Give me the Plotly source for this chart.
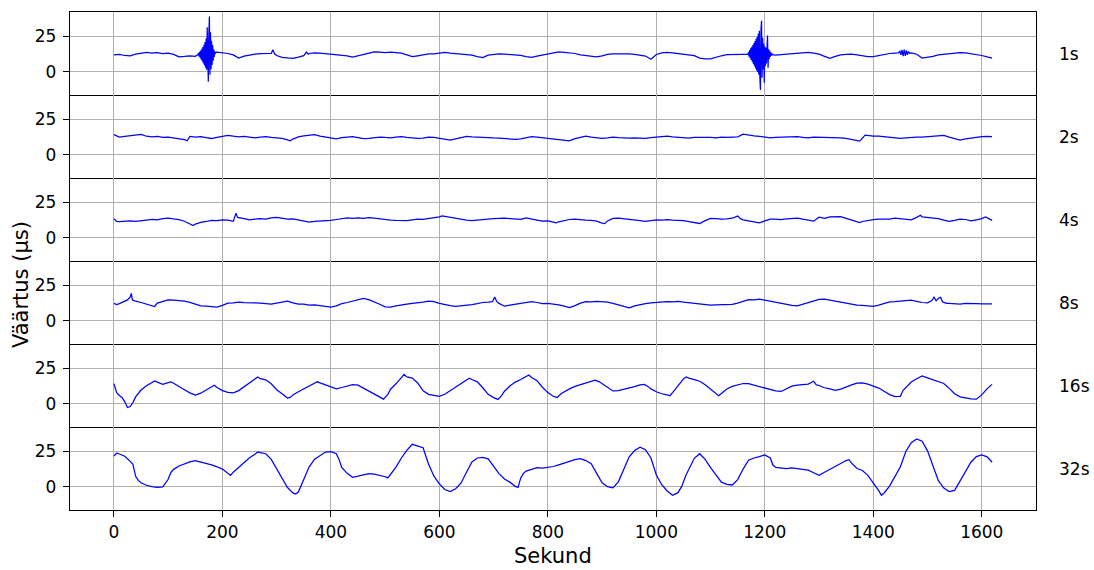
import plotly.graph_objects as go
from plotly.subplots import make_subplots

# Mõõdetud ajavea väärtused (µs) erinevate keskmistamisintervallidega.
# Iga rida: (sekund, väärtus)

s1_base = [
    (0, 12.0), (10, 12.4), (20, 11.6), (30, 11.4), (40, 12.5), (50, 13.3), (60, 13.8), (70, 13.2),
    (80, 13.6), (90, 13.0), (100, 13.2), (110, 12.4), (120, 10.6), (130, 10.9), (140, 11.3), (150, 11.0),
    (190, 14.0), (200, 13.6), (210, 13.0), (220, 12.0), (230, 9.8), (240, 11.2), (250, 12.0), (260, 12.6),
    (270, 12.9), (280, 13.2), (290, 13.0), (293, 15.6), (296, 12.8), (300, 11.6), (310, 10.3), (320, 9.9),
    (330, 9.6), (340, 10.4), (350, 11.5), (355, 14.0), (358, 12.5), (360, 13.0), (370, 13.4), (380, 13.2),
    (390, 12.8), (400, 12.6), (410, 12.2), (420, 12.0), (430, 11.4), (440, 10.5), (450, 11.5), (460, 12.6),
    (470, 13.4), (480, 14.2), (490, 14.0), (500, 13.6), (510, 13.9), (520, 13.6), (530, 13.2), (540, 12.0),
    (550, 10.8), (560, 11.4), (570, 12.3), (580, 12.7), (590, 12.8), (600, 13.5), (610, 13.8), (620, 13.3),
    (630, 12.9), (640, 12.4), (650, 12.2), (660, 11.9), (670, 10.8), (680, 10.1), (690, 11.8), (700, 12.5),
    (710, 12.8), (720, 12.6), (730, 12.4), (740, 12.0), (750, 11.6), (760, 10.8), (770, 10.3), (780, 11.2),
    (790, 12.0), (800, 12.8), (810, 13.6), (820, 14.2), (830, 13.8), (840, 13.4), (850, 13.0), (860, 12.0),
    (870, 11.5), (880, 11.0), (890, 10.6), (900, 11.4), (910, 12.4), (920, 12.7), (930, 12.9), (940, 13.1),
    (950, 12.8), (960, 12.4), (970, 11.8), (980, 11.2), (990, 9.0), (1000, 12.3), (1010, 13.4), (1020, 13.8),
    (1030, 13.5), (1040, 13.1), (1050, 12.8), (1060, 12.2), (1070, 11.5), (1080, 9.8), (1090, 9.2), (1100, 9.3),
    (1110, 10.6), (1120, 11.4), (1130, 12.2), (1140, 12.4), (1150, 12.5), (1160, 12.3),
    (1220, 11.9), (1230, 12.2), (1240, 12.5), (1250, 12.8), (1260, 13.1), (1270, 13.5), (1280, 13.8),
    (1290, 13.2), (1300, 12.5), (1310, 11.0), (1320, 9.6), (1330, 11.0), (1340, 12.0), (1350, 12.4),
    (1360, 12.6), (1370, 12.0), (1380, 11.2), (1390, 10.8), (1400, 10.8), (1410, 11.5), (1420, 12.5),
    (1430, 13.0), (1440, 13.3),
    (1470, 13.5), (1480, 12.5), (1490, 9.8), (1500, 10.2), (1510, 11.0), (1520, 12.0), (1530, 12.5),
    (1540, 12.7), (1550, 13.2), (1560, 13.6), (1570, 13.4), (1580, 12.8), (1590, 12.4), (1600, 11.6),
    (1610, 10.6), (1619, 9.8),
]

s1_burst_a = [
    (155, 12.2), (156, 13.4), (157, 11.0), (158, 14.2), (159, 9.8), (160, 15.0), (161, 8.6), (162, 16.4),
    (163, 7.4), (164, 17.6), (165, 6.0), (166, 19.2), (167, 4.6), (168, 21.0), (169, 3.0), (170, 23.6),
    (171, 1.6), (172, 31.4), (173, 0.4), (174, -6.8), (175, 26.0), (176, 39.0), (177, -2.0), (178, 28.0),
    (179, 2.0), (180, 22.0), (181, 5.0), (182, 19.0), (183, 8.0), (184, 16.0), (185, 10.5), (186, 14.5),
    (187, 12.8), (188, 13.8),
]

s1_burst_b = [
    (1169, 12.4), (1170, 14.0), (1171, 10.8), (1172, 15.4), (1173, 9.6), (1174, 16.6), (1175, 8.4),
    (1176, 17.8), (1177, 7.0), (1178, 19.0), (1179, 5.6), (1180, 20.4), (1181, 4.0), (1182, 21.8),
    (1183, 2.4), (1184, 23.4), (1185, 1.0), (1186, 24.8), (1187, 0.0), (1188, 27.0), (1189, -2.0),
    (1190, 29.0), (1191, -5.0), (1192, -12.6), (1193, 30.0), (1194, 36.0), (1195, -4.0), (1196, 24.0),
    (1197, 2.0), (1198, 20.0), (1199, -7.6), (1200, 18.0), (1201, 4.0), (1202, 17.0), (1203, 6.0),
    (1204, 20.0), (1205, 25.6), (1206, 3.0), (1207, 16.0), (1208, 9.0), (1209, 15.0), (1210, 10.5),
    (1211, 13.8), (1212, 11.6), (1213, 13.0), (1214, 12.2),
]

s1_burst_c = [
    (1446, 13.4), (1449, 14.6), (1451, 12.0), (1453, 15.6), (1455, 11.2), (1457, 15.8), (1459, 11.4),
    (1461, 15.2), (1463, 12.0), (1465, 14.4), (1467, 13.2),
]

s2 = [
    (0, 14.3), (10, 12.6), (20, 13.1), (30, 13.5), (40, 13.9), (50, 14.5), (60, 13.2), (70, 12.8),
    (80, 13.0), (90, 12.4), (100, 12.6), (110, 12.0), (120, 11.8), (130, 10.8), (135, 10.0), (140, 13.0),
    (150, 12.6), (160, 12.9), (170, 12.2), (180, 11.6), (190, 12.4), (200, 13.2), (210, 13.8), (220, 13.2),
    (230, 12.8), (240, 13.1), (250, 12.5), (260, 12.1), (270, 12.6), (280, 12.9), (290, 12.4), (300, 12.0),
    (310, 11.6), (320, 10.6), (325, 10.0), (330, 11.2), (340, 12.7), (350, 13.4), (360, 14.0), (370, 14.3),
    (380, 13.2), (390, 12.5), (400, 11.8), (410, 11.4), (420, 12.2), (430, 12.6), (440, 12.9), (450, 12.2),
    (460, 11.5), (470, 11.6), (480, 12.3), (490, 12.6), (500, 12.3), (510, 12.1), (520, 12.6), (530, 12.9),
    (540, 12.4), (550, 12.0), (560, 11.7), (570, 11.9), (580, 12.5), (590, 12.4), (600, 11.8), (610, 11.2),
    (620, 10.5), (630, 11.4), (640, 12.4), (650, 13.1), (660, 12.8), (670, 12.5), (680, 12.4), (690, 12.2),
    (700, 12.0), (710, 11.9), (720, 11.6), (730, 11.3), (740, 11.0), (750, 11.4), (760, 12.2), (770, 12.9),
    (780, 12.6), (790, 12.2), (800, 12.0), (810, 11.5), (820, 11.2), (830, 10.4), (840, 10.0), (850, 11.5),
    (860, 12.6), (870, 13.3), (880, 12.6), (890, 12.1), (900, 11.7), (910, 12.1), (920, 12.6), (930, 12.2),
    (940, 11.9), (950, 11.9), (960, 12.1), (970, 11.8), (980, 11.7), (990, 12.2), (1000, 12.6), (1010, 13.0),
    (1020, 13.3), (1030, 12.8), (1040, 12.4), (1050, 12.1), (1060, 11.8), (1070, 12.3), (1080, 12.5),
    (1090, 12.2), (1100, 12.4), (1110, 12.1), (1120, 12.6), (1130, 12.3), (1140, 12.4), (1150, 12.8),
    (1160, 14.6), (1170, 13.9), (1180, 13.4), (1190, 13.1), (1200, 12.4), (1210, 12.1), (1220, 12.4),
    (1230, 12.6), (1240, 12.3), (1250, 12.7), (1260, 12.9), (1270, 12.4), (1280, 12.1), (1290, 12.5),
    (1300, 12.4), (1310, 12.2), (1320, 12.6), (1330, 12.4), (1340, 12.1), (1350, 11.6), (1360, 11.0),
    (1370, 10.2), (1375, 9.8), (1385, 14.0), (1390, 13.6), (1400, 13.3), (1410, 13.3), (1420, 12.8),
    (1430, 12.4), (1440, 11.9), (1450, 11.7), (1460, 12.0), (1470, 12.4), (1480, 12.5), (1490, 12.6),
    (1500, 12.9), (1510, 13.2), (1520, 13.6), (1530, 13.8), (1540, 12.6), (1550, 11.5), (1560, 10.5),
    (1570, 11.3), (1580, 12.0), (1590, 12.6), (1600, 12.9), (1610, 13.1), (1619, 12.9),
]

s4 = [
    (0, 13.5), (5, 11.6), (10, 11.5), (20, 11.8), (30, 12.1), (40, 11.6), (50, 12.3), (60, 12.6), (70, 13.0),
    (80, 12.7), (90, 13.6), (100, 14.0), (110, 13.4), (120, 12.9), (130, 11.8), (140, 10.0), (146, 8.7),
    (150, 9.8), (160, 11.0), (170, 11.6), (180, 12.4), (190, 12.2), (200, 12.8), (210, 12.6), (220, 11.7),
    (225, 17.5), (228, 14.5), (240, 13.6), (250, 12.8), (260, 13.2), (270, 13.6), (280, 13.2), (290, 14.2),
    (300, 14.5), (310, 13.6), (320, 13.2), (330, 13.5), (340, 12.8), (350, 12.0), (360, 11.2), (370, 11.6),
    (380, 11.8), (390, 12.2), (400, 12.4), (410, 13.0), (420, 13.6), (430, 14.2), (440, 13.8), (450, 14.1),
    (460, 13.8), (470, 14.3), (480, 13.9), (490, 13.3), (500, 13.0), (510, 12.5), (520, 12.3), (530, 12.0),
    (540, 12.2), (550, 12.8), (560, 13.3), (570, 13.1), (580, 13.7), (590, 14.0), (600, 14.8), (605, 15.6),
    (610, 15.2), (620, 14.6), (630, 14.0), (640, 13.2), (650, 12.5), (660, 12.2), (670, 12.7), (680, 12.9),
    (690, 13.2), (700, 13.6), (710, 14.0), (720, 13.9), (730, 13.6), (740, 13.3), (750, 13.1), (760, 14.2),
    (770, 13.6), (780, 12.6), (790, 11.8), (800, 12.1), (810, 11.2), (815, 10.6), (820, 11.4), (830, 12.4),
    (840, 13.0), (850, 13.3), (860, 12.8), (870, 12.6), (880, 12.4), (890, 11.8), (900, 10.5), (905, 10.1),
    (910, 12.0), (920, 13.8), (930, 13.9), (940, 13.6), (950, 13.3), (960, 13.0), (970, 12.2), (980, 11.7),
    (990, 12.3), (1000, 12.8), (1010, 12.6), (1020, 12.9), (1030, 12.5), (1040, 12.4), (1050, 12.2),
    (1060, 11.5), (1070, 10.8), (1080, 10.2), (1090, 12.2), (1100, 13.8), (1110, 13.6), (1120, 13.2),
    (1130, 13.4), (1140, 13.9), (1150, 15.4), (1155, 13.6), (1160, 12.8), (1170, 12.0), (1180, 11.2),
    (1190, 10.6), (1200, 12.0), (1210, 13.2), (1220, 13.3), (1230, 13.0), (1240, 13.4), (1250, 13.7),
    (1260, 14.0), (1270, 13.2), (1280, 12.4), (1290, 11.8), (1300, 14.6), (1310, 13.8), (1320, 14.9),
    (1330, 15.2), (1340, 15.0), (1350, 13.8), (1360, 12.6), (1370, 11.2), (1375, 10.8), (1380, 11.6),
    (1390, 12.4), (1400, 12.9), (1410, 13.3), (1420, 13.5), (1430, 13.2), (1440, 14.0), (1450, 13.6),
    (1460, 13.3), (1470, 12.8), (1480, 14.5), (1487, 16.0), (1490, 14.9), (1500, 14.6), (1510, 14.2),
    (1520, 13.6), (1530, 12.6), (1540, 11.7), (1550, 12.4), (1560, 13.2), (1570, 13.0), (1580, 12.0),
    (1590, 12.8), (1600, 13.6), (1607, 14.8), (1612, 13.8), (1619, 12.4),
]

s8 = [
    (0, 12.4), (5, 11.6), (10, 12.2), (20, 13.8), (25, 14.8), (30, 17.0), (32, 19.4), (34, 14.8), (40, 13.9),
    (50, 13.0), (60, 12.0), (70, 10.5), (75, 10.2), (80, 12.6), (90, 13.8), (100, 14.8), (110, 14.6),
    (120, 14.4), (130, 13.9), (140, 13.1), (150, 12.0), (160, 10.6), (170, 10.4), (180, 10.2), (190, 9.8),
    (200, 11.0), (210, 12.6), (220, 12.8), (230, 13.2), (240, 12.9), (250, 13.0), (260, 12.8), (270, 12.5),
    (280, 12.4), (290, 11.8), (300, 12.6), (310, 13.4), (320, 14.0), (330, 12.7), (340, 11.8), (350, 11.8),
    (360, 11.2), (370, 11.3), (380, 10.8), (390, 10.2), (400, 9.8), (410, 10.6), (420, 12.2), (430, 13.0),
    (440, 14.0), (450, 15.0), (460, 15.9), (470, 15.0), (480, 13.6), (490, 11.8), (500, 10.0), (510, 9.8),
    (520, 10.6), (530, 11.4), (540, 11.9), (550, 12.3), (560, 12.6), (570, 13.2), (580, 13.9), (590, 13.6),
    (600, 12.4), (610, 11.4), (620, 10.8), (630, 10.3), (640, 10.6), (650, 11.0), (660, 11.5), (670, 12.2),
    (680, 13.0), (690, 13.2), (698, 13.6), (702, 16.8), (706, 13.6), (710, 12.4), (720, 10.4), (730, 11.2),
    (740, 11.9), (750, 12.6), (760, 13.0), (770, 13.6), (780, 13.0), (790, 12.2), (800, 12.4), (810, 12.0),
    (820, 11.4), (830, 10.5), (840, 9.4), (850, 10.8), (860, 12.6), (870, 13.6), (880, 13.4), (890, 13.8),
    (900, 13.5), (910, 13.3), (920, 12.4), (930, 11.4), (940, 10.4), (950, 9.2), (960, 10.6), (970, 11.6),
    (980, 12.2), (990, 12.8), (1000, 13.2), (1010, 13.5), (1020, 13.7), (1030, 13.4), (1040, 13.8),
    (1050, 13.2), (1060, 12.8), (1070, 12.4), (1080, 12.0), (1090, 11.6), (1100, 11.2), (1110, 11.4),
    (1120, 11.6), (1130, 11.8), (1140, 11.7), (1150, 12.6), (1160, 13.8), (1170, 15.0), (1180, 14.8),
    (1190, 15.4), (1200, 14.6), (1210, 13.8), (1220, 12.9), (1230, 12.3), (1240, 11.6), (1250, 11.0),
    (1260, 10.7), (1270, 11.8), (1280, 13.0), (1290, 14.2), (1300, 15.2), (1310, 15.3), (1320, 14.6),
    (1330, 13.8), (1340, 13.2), (1350, 12.4), (1360, 11.8), (1370, 11.2), (1380, 10.9), (1390, 10.6),
    (1400, 10.3), (1410, 11.2), (1420, 12.4), (1430, 13.4), (1440, 13.6), (1450, 14.0), (1460, 14.2),
    (1470, 14.6), (1480, 13.8), (1490, 13.0), (1500, 12.8), (1508, 14.4), (1512, 16.8), (1516, 14.2),
    (1520, 16.0), (1524, 16.6), (1528, 13.4), (1535, 12.4), (1540, 12.4), (1550, 12.2), (1560, 11.9),
    (1570, 12.3), (1580, 12.0), (1590, 12.2), (1600, 12.0), (1610, 12.2), (1619, 12.1),
]

s16 = [
    (0, 14.3), (5, 8.0), (10, 6.0), (15, 4.6), (20, 1.5), (25, -2.5), (30, -1.8), (35, 1.0), (40, 5.0),
    (50, 9.8), (60, 12.8), (70, 15.2), (75, 16.2), (80, 15.4), (90, 13.8), (100, 15.0), (105, 15.6),
    (110, 14.6), (120, 12.0), (130, 10.0), (140, 7.8), (150, 6.3), (160, 7.6), (170, 10.0), (180, 12.6),
    (185, 13.2), (190, 11.6), (200, 9.4), (210, 8.2), (220, 7.8), (230, 9.4), (240, 12.0), (250, 15.0),
    (260, 17.6), (265, 19.0), (270, 17.8), (280, 17.0), (290, 14.2), (300, 10.0), (310, 7.2), (320, 4.2),
    (325, 4.6), (330, 6.4), (340, 8.6), (350, 10.6), (360, 12.4), (370, 14.2), (375, 15.6), (380, 14.8),
    (390, 13.4), (400, 12.0), (410, 10.6), (420, 11.6), (430, 12.8), (440, 13.6), (450, 13.2), (460, 11.2),
    (470, 9.0), (480, 7.2), (490, 5.0), (497, 3.4), (505, 6.8), (510, 10.4), (520, 14.2), (530, 18.4),
    (535, 20.8), (540, 19.0), (550, 18.2), (560, 14.8), (570, 9.2), (580, 6.8), (590, 5.9), (600, 5.4),
    (610, 6.8), (620, 9.4), (630, 11.8), (640, 14.6), (650, 17.0), (655, 18.2), (660, 17.2), (670, 15.6),
    (680, 11.4), (690, 6.8), (700, 4.5), (708, 3.2), (715, 6.0), (720, 9.0), (730, 12.6), (740, 15.4),
    (750, 17.2), (760, 19.0), (765, 20.4), (770, 18.6), (780, 16.4), (790, 11.8), (800, 8.0), (810, 5.4),
    (817, 4.6), (825, 7.4), (830, 8.6), (840, 10.6), (850, 12.4), (860, 13.6), (870, 14.8), (880, 15.8),
    (887, 16.8), (895, 15.6), (900, 14.4), (910, 11.6), (920, 9.2), (930, 9.4), (940, 10.2), (950, 11.0),
    (960, 12.2), (970, 13.4), (978, 13.8), (985, 12.2), (990, 10.6), (1000, 8.6), (1010, 7.2), (1020, 6.4),
    (1025, 5.8), (1030, 8.0), (1040, 13.0), (1050, 17.6), (1055, 19.0), (1060, 18.2), (1070, 17.2),
    (1080, 16.0), (1090, 13.6), (1100, 10.2), (1110, 7.2), (1115, 5.8), (1120, 7.4), (1130, 10.6),
    (1140, 12.4), (1150, 13.4), (1160, 14.4), (1170, 14.3), (1180, 13.2), (1190, 12.2), (1200, 11.2),
    (1210, 10.0), (1220, 9.2), (1230, 8.8), (1240, 10.8), (1250, 12.6), (1260, 13.2), (1270, 13.4),
    (1280, 14.0), (1290, 16.0), (1295, 13.4), (1300, 13.0), (1310, 11.4), (1320, 10.6), (1330, 9.6),
    (1340, 10.4), (1350, 12.0), (1360, 13.4), (1370, 14.6), (1380, 14.8), (1390, 14.0), (1400, 12.8),
    (1410, 11.2), (1420, 9.0), (1430, 6.6), (1440, 5.2), (1450, 5.4), (1455, 9.6), (1460, 11.8),
    (1470, 15.4), (1480, 17.8), (1490, 19.8), (1500, 18.4), (1510, 17.0), (1520, 15.6), (1530, 14.4),
    (1540, 11.0), (1550, 7.2), (1560, 5.0), (1570, 4.2), (1580, 3.6), (1590, 3.4), (1600, 6.4),
    (1610, 10.8), (1619, 13.8),
]

s32 = [
    (0, 21.8), (5, 23.8), (10, 23.2), (20, 21.6), (30, 18.0), (35, 16.0), (40, 7.5), (45, 4.6), (50, 3.0),
    (60, 1.2), (70, 0.2), (80, -0.2), (90, 0.1), (95, 2.6), (100, 5.4), (105, 10.2), (110, 12.4), (120, 14.8),
    (130, 16.4), (140, 17.6), (150, 18.6), (160, 17.6), (170, 16.8), (180, 15.6), (190, 14.2), (200, 12.6),
    (210, 9.6), (215, 8.2), (220, 10.4), (230, 13.6), (240, 17.2), (250, 20.6), (260, 23.0), (265, 24.6),
    (270, 24.2), (280, 23.4), (290, 19.4), (300, 12.6), (310, 6.2), (320, -0.4), (330, -4.2), (335, -5.0),
    (340, -3.6), (345, 0.8), (350, 6.0), (360, 14.2), (370, 19.6), (380, 22.4), (390, 24.6), (400, 24.8),
    (410, 23.4), (415, 19.4), (420, 13.8), (430, 9.6), (440, 6.8), (450, 7.6), (460, 8.6), (470, 9.4),
    (480, 9.0), (490, 8.2), (500, 7.2), (505, 6.4), (510, 9.0), (520, 14.0), (530, 20.4), (540, 25.8),
    (550, 30.0), (560, 29.0), (570, 27.6), (575, 21.8), (580, 16.2), (590, 7.6), (600, 2.2), (610, -1.8),
    (620, -3.2), (630, -1.2), (640, 2.8), (650, 10.4), (660, 17.6), (670, 20.4), (680, 20.8), (690, 19.8),
    (700, 14.8), (710, 9.4), (720, 5.6), (730, 3.4), (740, 0.4), (745, -0.3), (750, 6.4), (755, 9.6),
    (760, 11.2), (770, 12.4), (780, 13.6), (790, 13.2), (800, 13.8), (810, 14.4), (820, 15.6), (830, 16.6),
    (840, 18.0), (850, 19.2), (860, 20.0), (870, 18.6), (880, 16.4), (890, 9.6), (900, 3.0), (910, 0.2),
    (920, -0.6), (930, 3.6), (940, 12.8), (950, 21.2), (960, 25.6), (970, 28.0), (980, 26.2), (990, 20.4),
    (1000, 8.4), (1010, 1.6), (1020, -2.8), (1030, -5.8), (1040, -4.0), (1047, 0.6), (1055, 8.6),
    (1065, 17.0), (1070, 20.2), (1080, 23.4), (1090, 19.4), (1100, 13.6), (1110, 8.4), (1120, 3.4),
    (1130, 1.8), (1140, 1.4), (1150, 5.2), (1160, 12.6), (1170, 18.8), (1180, 20.4), (1190, 21.4),
    (1200, 22.6), (1210, 20.4), (1215, 15.4), (1220, 13.8), (1230, 13.4), (1240, 13.0), (1250, 13.4),
    (1260, 12.8), (1270, 12.6), (1280, 11.8), (1290, 10.0), (1300, 8.2), (1310, 10.4), (1320, 12.6),
    (1330, 14.6), (1340, 16.4), (1350, 18.6), (1355, 19.2), (1360, 16.8), (1370, 13.0), (1380, 11.6),
    (1390, 8.2), (1400, 3.2), (1410, -2.6), (1415, -5.8), (1420, -4.2), (1430, 0.6), (1440, 7.6),
    (1450, 14.2), (1460, 25.0), (1470, 31.2), (1480, 33.8), (1490, 32.2), (1500, 25.4), (1510, 14.2),
    (1520, 4.4), (1530, -0.8), (1540, -3.2), (1550, -2.4), (1560, 4.2), (1570, 11.2), (1580, 17.4),
    (1590, 21.4), (1600, 22.6), (1610, 21.2), (1619, 17.4),
]

s1 = sorted(s1_base + s1_burst_a + s1_burst_b + s1_burst_c)

series = [s1, s2, s4, s8, s16, s32]
labels = ["1s", "2s", "4s", "8s", "16s", "32s"]

x_ticks = [0, 200, 400, 600, 800, 1000, 1200, 1400, 1600]
y_ticks = [0, 25]

FONT = "DejaVu Sans"
GRID = "#b0b0b0"
TICK_SIZE = 17

fig = make_subplots(rows=6, cols=1, shared_xaxes=True, vertical_spacing=0)

for i, s in enumerate(series, start=1):
    t = [p[0] for p in s]
    v = [p[1] for p in s]
    fig.add_trace(
        go.Scatter(x=t, y=v, mode="lines", line=dict(color="#0000ff", width=1.25),
                   showlegend=False, hoverinfo="skip"),
        row=i, col=1,
    )
    fig.update_yaxes(
        range=[-16.2, 42.2], tickvals=y_ticks, showgrid=True, gridcolor=GRID, gridwidth=1.3,
        zeroline=False, showline=True, mirror=True, linecolor="black", linewidth=1.3,
        ticks="outside", ticklen=6, tickwidth=1.3, tickcolor="black",
        tickfont=dict(family=FONT, size=TICK_SIZE, color="black"), ticklabelstandoff=3,
        row=i, col=1,
    )
    # paneelide vaheline joon joonistatakse ainult korra (ülemise paneeli alumine serv)
    fig.update_xaxes(
        range=[-81, 1700], tickvals=x_ticks, showgrid=True, gridcolor=GRID, gridwidth=1.3,
        zeroline=False, showline=True, mirror=(i == 1), linecolor="black", linewidth=1.3,
        ticks="outside" if i == 6 else "", ticklen=6, tickwidth=1.3, tickcolor="black",
        showticklabels=(i == 6),
        tickfont=dict(family=FONT, size=TICK_SIZE, color="black"),
        row=i, col=1,
    )
    # intervalli silt paneeli paremal
    yref = "y domain" if i == 1 else f"y{i} domain"
    fig.add_annotation(
        text=labels[i - 1], xref="paper", yref=yref, x=1.0217, y=0.5,
        xanchor="left", yanchor="middle", showarrow=False,
        font=dict(family=FONT, size=TICK_SIZE, color="black"),
    )

fig.add_annotation(
    text="Sekund", xref="paper", yref="paper", x=0.4995, y=-0.0924,
    xanchor="center", yanchor="middle", showarrow=False,
    font=dict(family=FONT, size=21, color="black"),
)
fig.add_annotation(
    text="Väärtus (µs)", xref="paper", yref="paper", x=-0.0507, y=0.4518,
    xanchor="center", yanchor="middle", textangle=-90, showarrow=False,
    font=dict(family=FONT, size=21, color="black"),
)

fig.update_layout(
    width=1094, height=570,
    margin=dict(l=70, r=58, t=12, b=60),
    paper_bgcolor="white", plot_bgcolor="white",
    font=dict(family=FONT, color="black"),
)

fig.write_html("out.html")
